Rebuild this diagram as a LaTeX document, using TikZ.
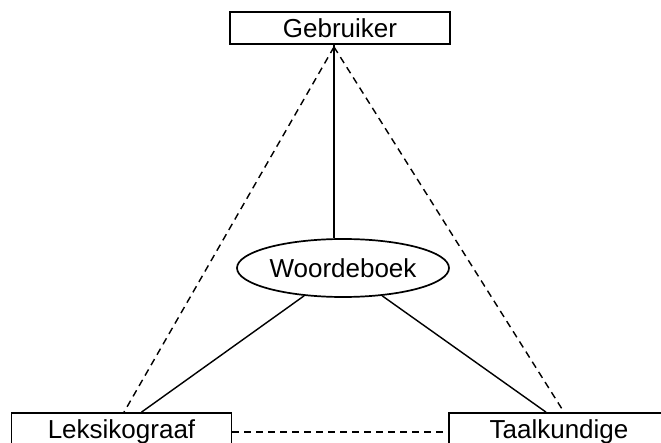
\documentclass[tikz,border=0pt]{standalone}
\usepackage{fontspec}
\setmainfont{Liberation Sans}
\usetikzlibrary{calc,shapes.geometric}
\tikzset{
  rol/.style={draw, line width=0.6mm, rectangle, inner sep=0pt, minimum width=220pt, font=\fontsize{26}{30}\selectfont},
  boek/.style={draw, line width=0.6mm, ellipse, inner sep=0pt, minimum width=212pt, minimum height=58pt, font=\fontsize{26}{30}\selectfont},
  band/.style={line width=0.5mm},
  streep/.style={line width=0.5mm, dash pattern=on 7pt off 5pt}
}
\begin{document}
\begin{tikzpicture}[x=1pt, y=-1pt]
			%%%%% BEGIN %%%%%
			\useasboundingbox (0, 0) rectangle (661, 443);
			
			\node[rol, minimum height=32pt] (gebruiker) at (340, 28) {Gebruiker};
			\node[boek] (woordeboek) at (343, 268) {Woordeboek};
			\node[rol, minimum height=38pt] (leksikograaf) at (121.5, 432) {Leksikograaf};
			\node[rol, minimum height=38pt] (taalkundige) at (559, 432) {Taalkundige};
			
			\coordinate (top) at (334, 47);
			
			\draw[band] (gebruiker.south -| top) -- (woordeboek.north -| top);
			\draw[band] (woordeboek) -- ([xshift=20pt]leksikograaf.north);
			\draw[band] (woordeboek) -- ([xshift=-13pt]taalkundige.north);
			
			\draw[streep] (top) -- ([xshift=2.5pt]leksikograaf.north);
			\draw[streep] (top) -- ([xshift=5pt]taalkundige.north);
			\draw[streep] (leksikograaf.east) -- (taalkundige.west);
			
			%%%%% EINDE %%%%%
		\end{tikzpicture}
\end{document}
